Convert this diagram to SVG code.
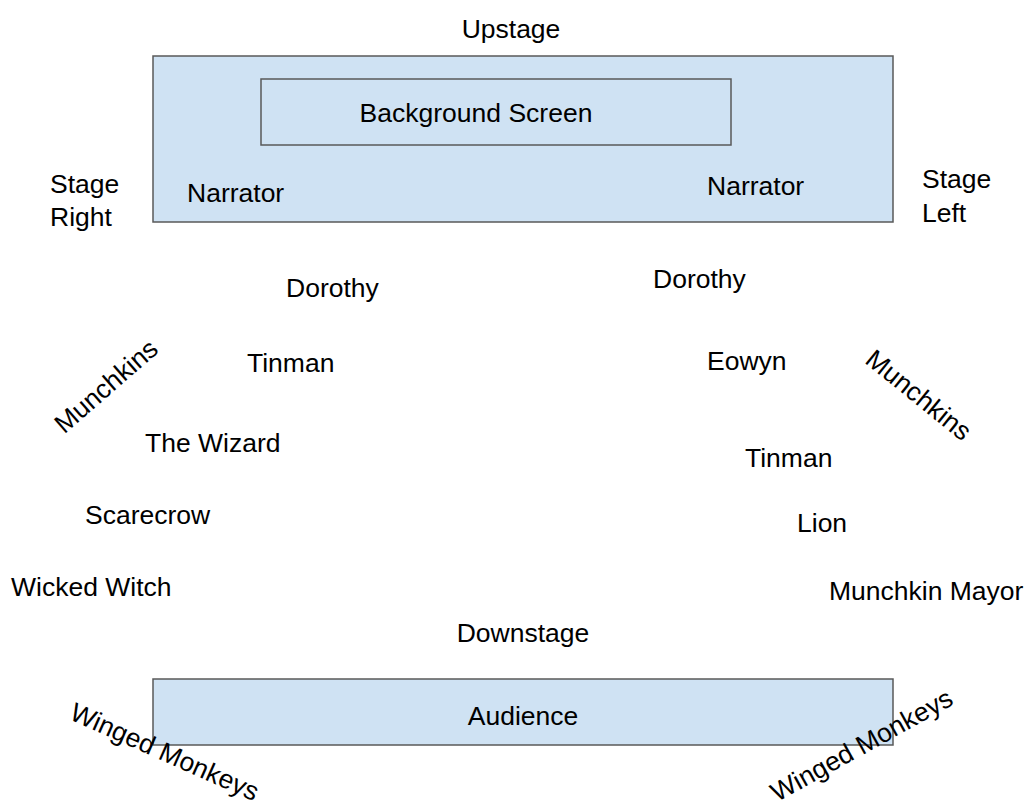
<svg xmlns="http://www.w3.org/2000/svg" width="1034" height="806" viewBox="0 0 1034 806">
<style>
.box{fill:#cfe2f3;stroke:#595959;stroke-width:1.5}
text{font-family:"Liberation Sans",Arial,sans-serif;font-size:26.5px;fill:#000}
.m{text-anchor:middle}
</style>
<rect width="1034" height="806" fill="#fff"/>
<g id="stage"><rect class="box" x="153" y="56" width="740" height="166"/></g>
<g id="screen"><rect class="box" x="261" y="79" width="470" height="66"/><text class="m" x="476" y="122">Background Screen</text></g>
<g id="audience"><rect class="box" x="153" y="679" width="740" height="66"/><text class="m" x="523" y="725">Audience</text></g>
<g id="labels">
<text class="m" x="511" y="38">Upstage</text>
<text x="187" y="202">Narrator</text>
<text x="707" y="195">Narrator</text>
<text x="50" y="193">Stage</text>
<text x="50" y="226">Right</text>
<text x="922" y="188">Stage</text>
<text x="922" y="222">Left</text>
<text x="286" y="297">Dorothy</text>
<text x="653" y="288">Dorothy</text>
<text x="247" y="372">Tinman</text>
<text x="707" y="370">Eowyn</text>
<text x="145" y="452">The Wizard</text>
<text x="745" y="467">Tinman</text>
<text x="85" y="524">Scarecrow</text>
<text x="797" y="532">Lion</text>
<text x="11" y="596">Wicked Witch</text>
<text x="829" y="600">Munchkin Mayor</text>
<text class="m" x="523" y="642">Downstage</text>
<text class="m" transform="translate(112,393) rotate(-41)">Munchkins</text>
<text class="m" transform="translate(913,402) rotate(39)">Munchkins</text>
<text class="m" transform="translate(161,760) rotate(24)">Winged Monkeys</text>
<text class="m" transform="translate(866,753) rotate(-29)">Winged Monkeys</text>
</g>
<g id="connectors"></g>
</svg>
